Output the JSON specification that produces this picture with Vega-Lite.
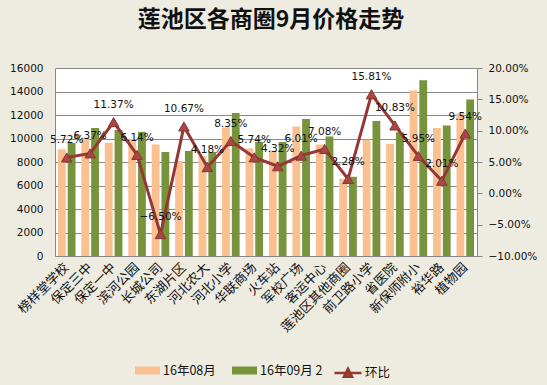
{
  "$schema": "https://vega.github.io/schema/vega-lite/v6.json",
  "width": 422,
  "height": 188,
  "autosize": "none",
  "padding": {"left": 55, "top": 68, "right": 70, "bottom": 129},
  "background": "#eeece1",
  "view": {"fill": "white", "stroke": null},
  "title": {
    "text": "莲池区各商圈9月价格走势",
    "font": "Noto Sans CJK SC",
    "fontSize": 23,
    "fontWeight": "bold",
    "color": "#111111",
    "anchor": "middle",
    "frame": "group",
    "offset": 31,
    "dx": 5
  },
  "data": {
    "values": [
      {"cat": "榜样堂学校", "16年08月": 9080, "16年09月 2": 9620, "pct": 0.0572},
      {"cat": "保定三中", "16年08月": 10050, "16年09月 2": 10900, "pct": 0.0637},
      {"cat": "保定一中", "16年08月": 9640, "16年09月 2": 10720, "pct": 0.1137},
      {"cat": "滨河公园", "16年08月": 9950, "16年09月 2": 10570, "pct": 0.0614},
      {"cat": "长城公司", "16年08月": 9500, "16年09月 2": 8850, "pct": -0.065},
      {"cat": "东湖片区", "16年08月": 8080, "16年09月 2": 8940, "pct": 0.1067},
      {"cat": "河北农大", "16年08月": 8500, "16年09月 2": 8850, "pct": 0.0418},
      {"cat": "河北小学", "16年08月": 10950, "16年09月 2": 12170, "pct": 0.0835},
      {"cat": "华联商场", "16年08月": 9150, "16年09月 2": 9720, "pct": 0.0574},
      {"cat": "火车站", "16年08月": 8950, "16年09月 2": 9710, "pct": 0.0432},
      {"cat": "军校广场", "16年08月": 11030, "16年09月 2": 11660, "pct": 0.0601},
      {"cat": "客运中心", "16年08月": 9490, "16年09月 2": 10170, "pct": 0.0708},
      {"cat": "莲池区其他商圈", "16年08月": 6570, "16年09月 2": 6740, "pct": 0.0228},
      {"cat": "前卫路小学", "16年08月": 9890, "16年09月 2": 11490, "pct": 0.1581},
      {"cat": "省医院", "16年08月": 9540, "16年09月 2": 10530, "pct": 0.1083},
      {"cat": "新保师附小", "16年08月": 14090, "16年09月 2": 14950, "pct": 0.0595},
      {"cat": "裕华路", "16年08月": 10900, "16年09月 2": 11100, "pct": 0.0201},
      {"cat": "植物园", "16年08月": 12160, "16年09月 2": 13320, "pct": 0.0954}
    ]
  },
  "encoding": {
    "x": {
      "field": "cat",
      "type": "nominal",
      "sort": null,
      "scale": {"paddingInner": 0.25, "paddingOuter": 0.125},
      "axis": {
        "title": null,
        "labelAngle": -45,
        "labelAlign": "right",
        "labelBaseline": "middle",
        "labelFont": "Noto Sans CJK SC",
        "labelFontSize": 13,
        "labelColor": "#111111",
        "labelPadding": 9,
        "ticks": false,
        "domainColor": "#868686",
        "labelOverlap": false
      }
    }
  },
  "layer": [
    {
      "transform": [{"fold": ["16年08月", "16年09月 2"], "as": ["series", "value"]}],
      "mark": {"type": "bar"},
      "encoding": {
        "xOffset": {"field": "series", "type": "nominal", "scale": {"paddingInner": 0.2}},
        "y": {
          "field": "value",
          "type": "quantitative",
          "scale": {"domain": [0, 16000], "nice": false},
          "axis": {
            "title": null,
            "orient": "left",
            "values": [0, 2000, 4000, 6000, 8000, 10000, 12000, 14000, 16000],
            "format": "d",
            "grid": true,
            "gridColor": "#8a8a8a",
            "gridWidth": 1,
            "ticks": false,
            "domainColor": "#868686",
            "labelFont": "DejaVu Sans",
            "labelFontSize": 10.5,
            "labelColor": "#111111",
            "labelPadding": 12
          }
        },
        "color": {
          "field": "series",
          "type": "nominal",
          "scale": {"domain": ["16年08月", "16年09月 2"], "range": ["#fac090", "#77933c"]},
          "legend": {
            "title": null,
            "orient": "none",
            "legendX": 80,
            "legendY": 290,
            "direction": "horizontal",
            "symbolType": "M-1,-0.32H1V0.32H-1Z",
            "symbolSize": 625,
            "symbolStrokeWidth": 0,
            "labelFont": "Noto Sans CJK SC",
            "labelFontSize": 12.5,
            "labelColor": "#111111",
            "labelOffset": 3,
            "columnPadding": 16
          }
        }
      }
    },
    {
      "encoding": {
        "y": {
          "field": "pct",
          "type": "quantitative",
          "scale": {"domain": [-0.1, 0.2], "nice": false},
          "axis": {
            "title": null,
            "orient": "right",
            "values": [-0.1, -0.05, 0, 0.05, 0.1, 0.15, 0.2],
            "format": ".2%",
            "grid": false,
            "tickSize": 5,
            "tickColor": "#868686",
            "domainColor": "#868686",
            "labelFont": "DejaVu Sans",
            "labelFontSize": 10.5,
            "labelColor": "#111111",
            "labelPadding": 6
          }
        }
      },
      "layer": [
        {
          "mark": {"type": "line", "strokeWidth": 3},
          "encoding": {
            "stroke": {
              "datum": "环比",
              "type": "nominal",
              "scale": {"domain": ["环比"], "range": ["#953735"]},
              "legend": {
                "title": null,
                "orient": "none",
                "legendX": 278,
                "legendY": 290,
                "symbolType": "M-1,0H1M-0.3,0.28L0,-0.32L0.3,0.28Z",
                "symbolSize": 729,
                "symbolStrokeWidth": 2.5,
                "symbolFillColor": "#a94744",
                "labelFont": "Noto Sans CJK SC",
                "labelFontSize": 12.5,
                "labelColor": "#111111",
                "labelOffset": 2
              }
            }
          }
        },
        {
          "mark": {"type": "point", "shape": "triangle-up", "filled": true, "size": 110, "fill": "#a94744", "stroke": "#8b3330", "strokeWidth": 1, "opacity": 1}
        },
        {
          "mark": {"type": "text", "dy": -17, "font": "DejaVu Sans", "fontSize": 10.5, "color": "#111111"},
          "encoding": {"text": {"field": "pct", "type": "quantitative", "format": ".2%"}}
        }
      ]
    }
  ],
  "resolve": {"scale": {"y": "independent"}}
}
